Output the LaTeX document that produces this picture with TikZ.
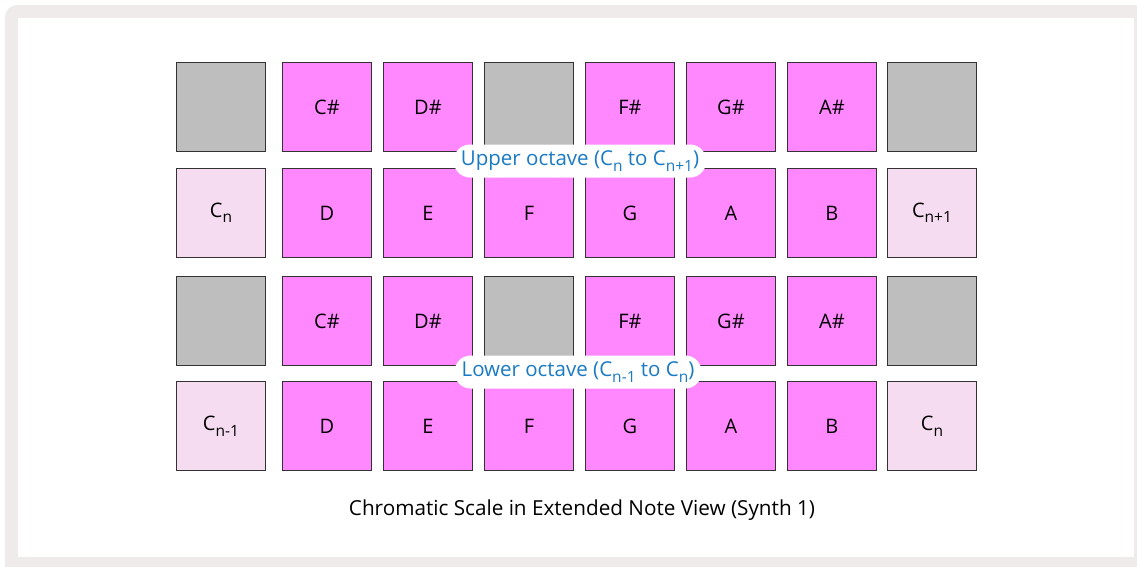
\documentclass[tikz,border=0pt]{standalone}
\usepackage{fontspec}
\setmainfont{Open Sans}
\definecolor{framegray}{HTML}{EEEBEA}
\definecolor{padpink}{HTML}{FF88FF}
\definecolor{padgray}{HTML}{BEBEBE}
\definecolor{padlight}{HTML}{F5DCF0}
\definecolor{padedge}{HTML}{333333}
\definecolor{labelblue}{HTML}{1A7BC4}
\tikzset{
  pad/.style={draw=padedge, line width=0.9pt, minimum width=89pt, minimum height=89pt, inner sep=0pt, anchor=north west, font=\fontsize{20}{22}\selectfont, text=black},
  sharp/.style={pad, fill=padpink},
  blank/.style={pad, fill=padgray},
  cnote/.style={pad, fill=padlight},
  pill/.style={fill=white, rounded corners=16pt, minimum height=33pt, inner xsep=7pt, inner ysep=4pt, text=labelblue, font=\fontsize{20.5}{22}\selectfont},
  captext/.style={font=\fontsize{20.7}{22}\selectfont, text=black},
}
\newcommand{\sbs}[1]{\raisebox{-0.28em}{\fontsize{15.5}{16}\selectfont #1}}
\begin{document}
\begin{tikzpicture}[x=1pt,y=-1pt]
\useasboundingbox (0,0) rectangle (1137,566);
\fill[framegray, rounded corners=12pt] (5,5) rectangle (1160,590);
\fill[white] (18,18) rectangle (1134,557);
% upper octave
\node[blank] (u0) at (176,62) {};
\node[sharp] (u1) at (282,62) {C\#};
\node[sharp] (u2) at (383,62) {D\#};
\node[blank] (u3) at (484,62) {};
\node[sharp] (u4) at (585,62) {F\#};
\node[sharp] (u5) at (686,62) {G\#};
\node[sharp] (u6) at (787,62) {A\#};
\node[blank] (u7) at (887,62) {};
\node[cnote] (v0) at (176,168) {C\sbs{n}};
\node[sharp] (v1) at (282,168) {D};
\node[sharp] (v2) at (383,168) {E};
\node[sharp] (v3) at (484,168) {F};
\node[sharp] (v4) at (585,168) {G};
\node[sharp] (v5) at (686,168) {A};
\node[sharp] (v6) at (787,168) {B};
\node[cnote] (v7) at (887,168) {C\sbs{n+1}};
% lower octave
\node[blank] (l0) at (176,276) {};
\node[sharp] (l1) at (282,276) {C\#};
\node[sharp] (l2) at (383,276) {D\#};
\node[blank] (l3) at (484,276) {};
\node[sharp] (l4) at (585,276) {F\#};
\node[sharp] (l5) at (686,276) {G\#};
\node[sharp] (l6) at (787,276) {A\#};
\node[blank] (l7) at (887,276) {};
\node[cnote] (m0) at (176,381) {C\sbs{n-1}};
\node[sharp] (m1) at (282,381) {D};
\node[sharp] (m2) at (383,381) {E};
\node[sharp] (m3) at (484,381) {F};
\node[sharp] (m4) at (585,381) {G};
\node[sharp] (m5) at (686,381) {A};
\node[sharp] (m6) at (787,381) {B};
\node[cnote] (m7) at (887,381) {C\sbs{n}};
% labels
\node[pill] (upper) at (580,161) {Upper octave (C\sbs{n} to C\sbs{n+1})};
\node[pill] (lower) at (578,372) {Lower octave (C\sbs{n-1} to C\sbs{n})};
\node[captext] (cap) at (582,510) {Chromatic Scale in Extended Note View (Synth 1)};
\end{tikzpicture}
\end{document}
